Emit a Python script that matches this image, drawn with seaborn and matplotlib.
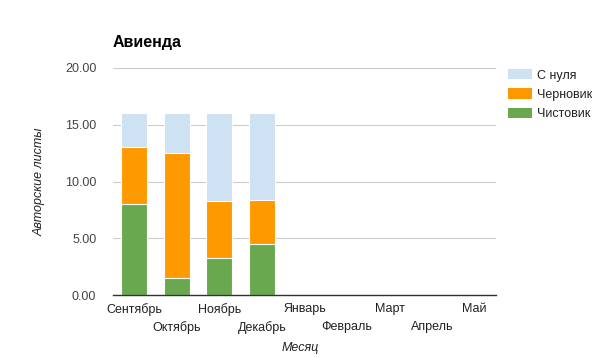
import matplotlib
matplotlib.use("Agg")
import matplotlib.pyplot as plt
import matplotlib.patches as mpatches
import seaborn as sns
import pandas as pd

months = ["Сентябрь", "Октябрь", "Ноябрь", "Декабрь", "Январь",
          "Февраль", "Март", "Апрель", "Май"]
data_months = ["Сентябрь", "Октябрь", "Ноябрь", "Декабрь"]
chistovik = [8.0, 1.5, 3.25, 4.5]
chernovik = [5.0, 11.0, 5.0, 3.9]
s_nulya = [3.0, 3.5, 7.75, 7.6]
series_names = ["С нуля", "Черновик", "Чистовик"]
colors = {"С нуля": "#cfe2f3", "Черновик": "#ff9900", "Чистовик": "#6aa84f"}
yticks = [0, 5, 10, 15, 20]

sns.set_style("white")
plt.rcParams["font.family"] = ["Liberation Sans", "DejaVu Sans"]

df = pd.DataFrame({"month": data_months, "Чистовик": chistovik,
                   "Черновик": chernovik, "С нуля": s_nulya})
df["lvl_green"] = df["Чистовик"]
df["lvl_orange"] = df["Чистовик"] + df["Черновик"]
df["lvl_total"] = df["lvl_orange"] + df["С нуля"]

fig = plt.figure(figsize=(6.05, 3.57), dpi=100)
ax = fig.add_axes([113/605, 1-295/357, (496-113)/605, (295-68)/357])

for col, name in [("lvl_total", "С нуля"), ("lvl_orange", "Черновик"), ("lvl_green", "Чистовик")]:
    sns.barplot(data=df, x="month", y=col, order=months, color=colors[name],
                width=0.61, saturation=1, ax=ax, edgecolor="white", linewidth=0.8)

ax.set_ylim(0, 20)
ax.set_xlim(-0.5, len(months) - 0.5)
ax.set_yticks(yticks)
ax.set_yticklabels([f"{v:.2f}" for v in yticks], color="#444444", fontsize=9)
ax.yaxis.grid(True, color="#cccccc", linewidth=0.8)
ax.set_axisbelow(True)
for s in ["top", "right", "left"]:
    ax.spines[s].set_visible(False)
ax.spines["bottom"].set_color("#333333")
ax.spines["bottom"].set_linewidth(1.0)
ax.tick_params(axis="y", length=0, pad=12)

major_pos = list(range(0, len(months), 2))
minor_pos = list(range(1, len(months), 2))
ax.set_xticks(major_pos)
ax.set_xticklabels([months[i] for i in major_pos], color="#222222", fontsize=9)
ax.set_xticks(minor_pos, minor=True)
ax.set_xticklabels([months[i] for i in minor_pos], minor=True, color="#222222", fontsize=9)
ax.tick_params(axis="x", which="major", length=0, pad=6)
ax.tick_params(axis="x", which="minor", length=0, pad=19)

ax.set_xlabel("")
fig.text(300/605, 1-348/357, "Месяц", fontsize=9, style="italic", color="#222222",
         ha="center", va="center")
ax.set_ylabel("Авторские листы", fontsize=9, style="italic", color="#222222", labelpad=14)

fig.text(113/605, 1-42/357, "Авиенда", fontsize=11.5, fontweight="bold",
         color="#000000", ha="left", va="center")

handles = [mpatches.Patch(facecolor=colors[n], edgecolor="none", label=n) for n in series_names]
fig.legend(handles=handles, loc="upper left", bbox_to_anchor=(508/605, 1-69/357),
           frameon=False, fontsize=9, handlelength=1.95, handleheight=0.9,
           labelspacing=0.55, handletextpad=0.4, borderpad=0, borderaxespad=0,
           labelcolor="#222222")

fig.savefig("out.png", dpi=100)
